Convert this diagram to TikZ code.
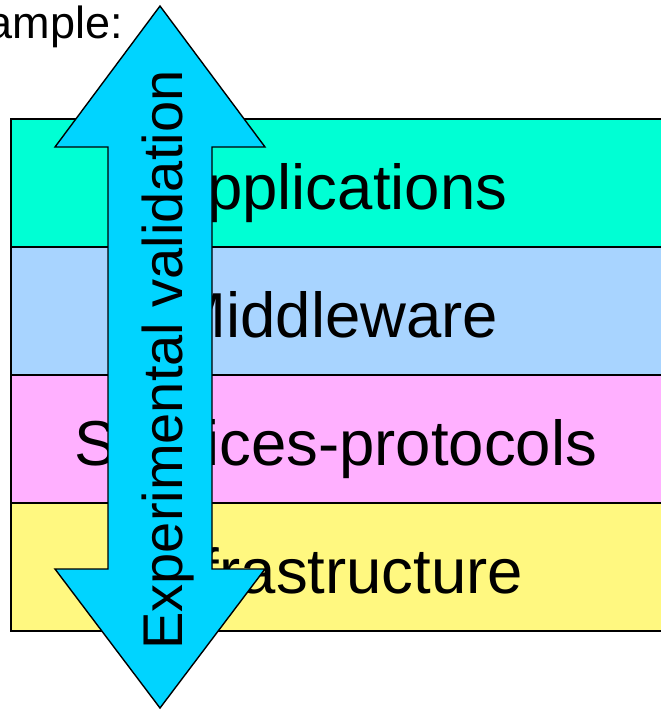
\documentclass[tikz,border=0pt]{standalone}
\usepackage{fontspec}
\setmainfont{Liberation Sans}
\usetikzlibrary{positioning}

\definecolor{appcol}{HTML}{00FFD4}
\definecolor{midcol}{HTML}{A8D4FF}
\definecolor{servcol}{HTML}{FFB0FF}
\definecolor{infcol}{HTML}{FFF880}
\definecolor{arrowcol}{HTML}{00D4FF}

\begin{document}
\begin{tikzpicture}[x=1pt, y=-1pt,
		layer/.style = {draw, line width=1.4pt, outer sep=0pt, inner sep=0pt, minimum width=654pt, minimum height=128pt},
		layertext/.style = {anchor=base, inner sep=0pt, font=\fontsize{63.5}{70}\selectfont}]
		\clip (0,0) rectangle (661,710);
		\node[layer, fill=appcol] (app) at (338,183) {};
		\node[layer, fill=midcol] (mid) [below=0pt of app] {};
		\node[layer, fill=servcol] (serv) [below=0pt of mid] {};
		\node[layer, fill=infcol] (inf) [below=0pt of serv] {};
		\node[layertext] (applbl) at (336,209) {Applications};
		\node[layertext] (midlbl) at (336,337) {Middleware};
		\node[layertext] (servlbl) at (336,465) {Services-protocols};
		\node[layertext] (inflbl) at (336,593) {Infrastructure};
		\node[anchor=base east, inner sep=0pt, font=\fontsize{45}{50}\selectfont] (example) at (123,38) {Example:};
		\draw[line width=1.4pt, line join=miter, fill=arrowcol] (160,6) -- (265,147) -- (212,147) -- (212,569) -- (265,569) -- (160,708)
			-- (55,569) -- (108,569) -- (108,147) -- (55,147) -- cycle;
		\node[rotate=90, anchor=base, inner sep=0pt, font=\fontsize{56}{60}\selectfont] (valid) at (182,360) {Experimental validation};
	\end{tikzpicture}
\end{document}
